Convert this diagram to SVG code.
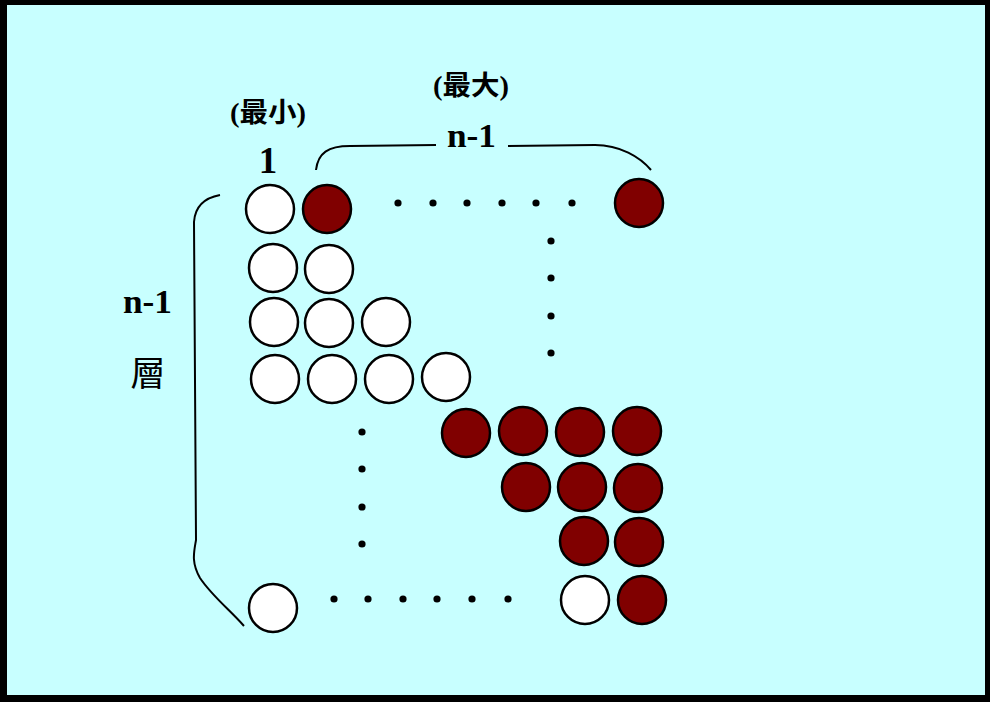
<svg xmlns="http://www.w3.org/2000/svg" width="990" height="702" viewBox="0 0 990 702">
<style>
.w{fill:#ffffff;stroke:#000;stroke-width:2.5}
.d{fill:#800000;stroke:#000;stroke-width:2.5}
.dot{fill:#000}
.br{fill:none;stroke:#000;stroke-width:2}
.lat{font-family:"Liberation Serif",serif;font-weight:bold;fill:#000}
.cjk{font-family:"Liberation Serif","Noto Sans CJK TC",serif;font-weight:bold;fill:#000}
</style>
<rect x="0" y="0" width="990" height="702" fill="#000"/>
<rect x="7" y="5" width="978" height="690" fill="#c8ffff"/>
<g id="labels">
<text class="cjk" x="230" y="122" font-size="27" textLength="76" lengthAdjust="spacingAndGlyphs">(最小)</text>
<text class="cjk" x="433" y="95" font-size="27" textLength="76" lengthAdjust="spacingAndGlyphs">(最大)</text>
<text class="lat" x="268" y="173" font-size="37" text-anchor="middle">1</text>
<text class="lat" x="447" y="147" font-size="33" textLength="49" lengthAdjust="spacingAndGlyphs">n-1</text>
<text class="lat" x="123" y="313" font-size="33" textLength="49" lengthAdjust="spacingAndGlyphs">n-1</text>
<text x="148" y="386" font-size="35" text-anchor="middle" font-family="Noto Sans CJK TC,sans-serif" fill="#000">層</text>
</g>
<g id="connectors">
<path class="br" d="M316,170 C318,153 328,146 350,146 L436,145"/>
<path class="br" d="M508,146 L595,145 C620,145 640,157 651,170"/>
<path class="br" d="M220,195 C204,198 195,206 194,222 L196,540 C194,552 191,562 200,578 C212,596 230,610 244,626"/>
</g>
<g id="dots">
<circle class="dot" cx="398" cy="203" r="3.6"/>
<circle class="dot" cx="433" cy="203" r="3.6"/>
<circle class="dot" cx="467" cy="203" r="3.6"/>
<circle class="dot" cx="502" cy="203" r="3.6"/>
<circle class="dot" cx="536" cy="203" r="3.6"/>
<circle class="dot" cx="572" cy="203" r="3.6"/>
<circle class="dot" cx="551" cy="241" r="3.6"/>
<circle class="dot" cx="551" cy="278" r="3.6"/>
<circle class="dot" cx="551" cy="316" r="3.6"/>
<circle class="dot" cx="551" cy="353" r="3.6"/>
<circle class="dot" cx="362" cy="432" r="3.6"/>
<circle class="dot" cx="362" cy="469" r="3.6"/>
<circle class="dot" cx="362" cy="507" r="3.6"/>
<circle class="dot" cx="362" cy="544" r="3.6"/>
<circle class="dot" cx="334" cy="599" r="3.6"/>
<circle class="dot" cx="368" cy="599" r="3.6"/>
<circle class="dot" cx="403" cy="599" r="3.6"/>
<circle class="dot" cx="437" cy="599" r="3.6"/>
<circle class="dot" cx="472" cy="599" r="3.6"/>
<circle class="dot" cx="508" cy="599" r="3.6"/>
</g>
<g id="balls">
<circle class="w" cx="270" cy="209" r="24"/>
<circle class="d" cx="327" cy="209" r="24"/>
<circle class="d" cx="639" cy="203" r="24"/>
<circle class="w" cx="273" cy="268" r="24"/>
<circle class="w" cx="329" cy="269" r="24"/>
<circle class="w" cx="274" cy="322" r="24"/>
<circle class="w" cx="329" cy="323" r="24"/>
<circle class="w" cx="386" cy="322" r="24"/>
<circle class="w" cx="275" cy="379" r="24"/>
<circle class="w" cx="332" cy="379" r="24"/>
<circle class="w" cx="389" cy="379" r="24"/>
<circle class="w" cx="446" cy="377" r="24"/>
<circle class="d" cx="466" cy="433" r="24"/>
<circle class="d" cx="523" cy="431" r="24"/>
<circle class="d" cx="580" cy="432" r="24"/>
<circle class="d" cx="637" cy="431" r="24"/>
<circle class="d" cx="526" cy="487" r="24"/>
<circle class="d" cx="582" cy="487" r="24"/>
<circle class="d" cx="638" cy="488" r="24"/>
<circle class="d" cx="584" cy="541" r="24"/>
<circle class="d" cx="639" cy="542" r="24"/>
<circle class="w" cx="585" cy="600" r="24"/>
<circle class="d" cx="642" cy="600" r="24"/>
<circle class="w" cx="273" cy="608" r="24"/>
</g>
</svg>
